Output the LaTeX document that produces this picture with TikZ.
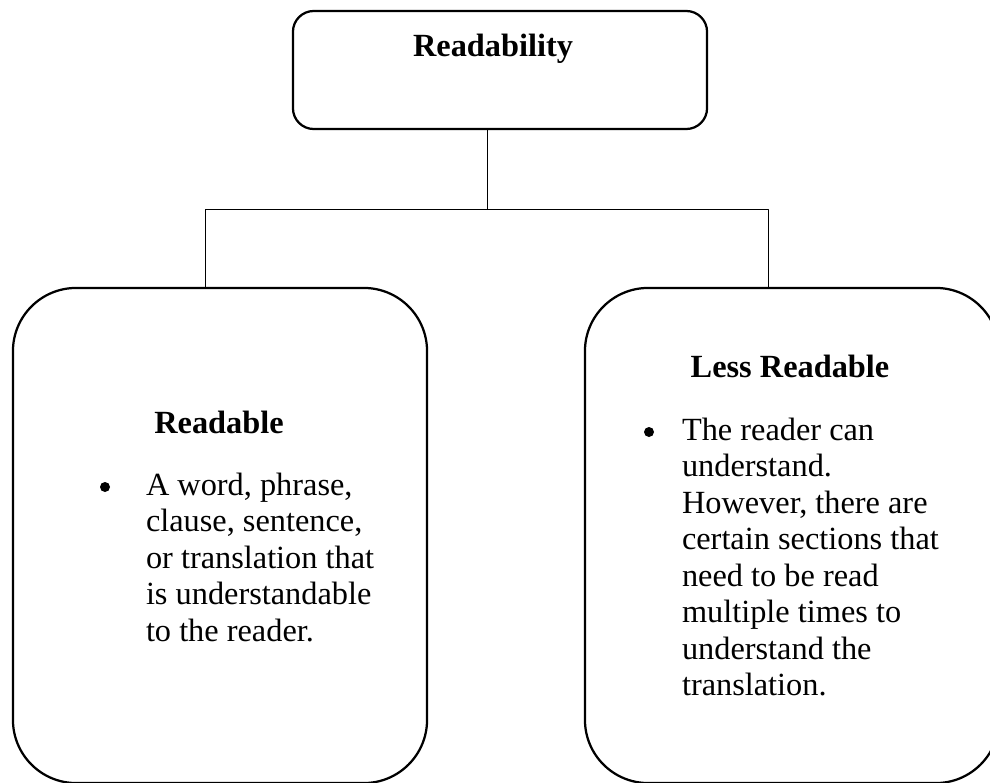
\documentclass[tikz,border=0pt]{standalone}
\usepackage{fontspec}
\setmainfont{Liberation Serif}
\tikzset{
  box/.style={draw, line width=1.6pt, inner sep=0pt, outer sep=0pt},
  link/.style={line width=0.7pt},
  txt/.style={inner sep=0pt, outer sep=0pt, align=left, font=\fontsize{23pt}{26pt}\selectfont},
  head/.style={txt, anchor=base, font=\fontsize{23pt}{26pt}\selectfont\bfseries},
  dot/.style={circle, fill, inner sep=0pt, minimum size=0.25cm},
}
\begin{document}
\begin{tikzpicture}[x=0.025cm, y=-0.025cm, line join=round]
\useasboundingbox (0,0) rectangle (990,782);
\clip (0,0) rectangle (990,782);
% Boxes
\node[box, rounded corners=0.52cm, minimum width=10.35cm, minimum height=2.95cm] (readability) at (500,70) {};
\node[box, rounded corners=1.58cm, minimum width=10.35cm, minimum height=12.375cm] (readable) at (220,535.5) {};
\node[box, rounded corners=1.58cm, minimum width=10.35cm, minimum height=12.375cm] (lessreadable) at (792,535.5) {};
% Headings
\node[head] (readabilitytxt) at (493,57) {Readability};
\node[head] (readablehead) at (219,433) {Readable};
\node[head] (lesshead) at (790,377) {Less Readable};
% Bullets and text
\node[dot] (bulletl) at (105,487) {};
\node[dot] (bulletr) at (649,432) {};
\node[txt, anchor=north west] (readabletxt) at (146,469.4) {\strut A word, phrase,\\clause, sentence,\\or translation that\\is understandable\\to the reader.};
\node[txt, anchor=north west] (lesstxt) at (682,414.4) {\strut The reader can\\understand.\\However, there are\\certain sections that\\need to be read\\multiple times to\\understand the\\translation.};
% Connectors
\coordinate (split) at (487,209);
\coordinate (jl) at (205,209);
\coordinate (jr) at (768,209);
\draw[link] (readability.south -| split) -- (split);
\draw[link] (jl |- readable.north) -- (jl) -- (jr) -- (jr |- lessreadable.north);
\end{tikzpicture}
\end{document}
